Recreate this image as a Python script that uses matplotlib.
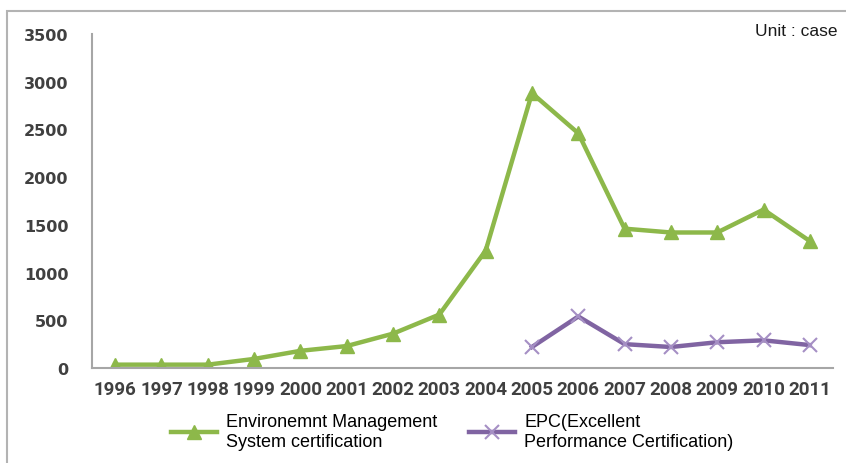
import matplotlib.pyplot as plt
from matplotlib.patches import Rectangle

# ── data ──
years = ["1996", "1997", "1998", "1999", "2000", "2001", "2002", "2003",
         "2004", "2005", "2006", "2007", "2008", "2009", "2010", "2011"]
ems_cert = [35, 35, 35, 95, 180, 230, 360, 560,
            1230, 2880, 2460, 1460, 1420, 1420, 1660, 1330]
epc_years = ["2005", "2006", "2007", "2008", "2009", "2010", "2011"]
epc_cert = [220, 540, 250, 220, 270, 290, 240]

yticks = [0, 500, 1000, 1500, 2000, 2500, 3000, 3500]

GREEN = "#8db84a"
PURPLE = "#8064a2"

fig = plt.figure(figsize=(8.46, 4.64), dpi=100)
ax = fig.add_axes([92 / 846, 95 / 464, 741 / 846, 334 / 464])

x_all = list(range(len(years)))
x_epc = [years.index(y) for y in epc_years]

l1, = ax.plot(x_all, ems_cert, color=GREEN, lw=3.2, marker="^", ms=10.5,
              label="Environemnt Management\nSystem certification")
l2, = ax.plot(x_epc, epc_cert, color=PURPLE, lw=3.2, marker="x", ms=10,
              mew=1.5, mec="#a58fc4",
              label="EPC(Excellent\nPerformance Certification)")

ax.set_xlim(-0.5, len(years) - 0.5)
ax.set_ylim(0, 3500)
ax.set_xticks(x_all)
ax.set_xticklabels(years, fontsize=13.5, fontweight="bold", family="Roboto",
                   color="#404040")
ax.set_yticks(yticks)
ax.set_yticklabels([str(v) for v in yticks], fontsize=11.5, fontweight="bold",
                   family="DejaVu Sans", color="#404040")
ax.tick_params(axis="both", length=0)
ax.tick_params(axis="y", pad=17)
ax.tick_params(axis="x", pad=9)

for side in ["top", "right"]:
    ax.spines[side].set_visible(False)
for side in ["left", "bottom"]:
    ax.spines[side].set_color("#a6a6a6")
    ax.spines[side].set_linewidth(1.5)

ax.text(1.006, 1.01, "Unit : case", transform=ax.transAxes, ha="right",
        va="center", fontsize=12.5, family="Liberation Sans", color="#1a1a1a")

ax.legend(handles=[l1, l2], loc="center", bbox_to_anchor=(0.486, -0.19),
          ncol=2, frameon=False, handlelength=2.55, handletextpad=0.5,
          columnspacing=1.8, labelspacing=0.3,
          prop={"family": "Liberation Sans", "size": 13})

# outer frame of the original figure
fig.patches.append(Rectangle((7 / 846, -0.1), 1.1, 1 - 12 / 464 + 0.1,
                             transform=fig.transFigure, fill=False,
                             edgecolor="#b3b3b3", lw=1.5))

plt.savefig("out.png", dpi=100)
